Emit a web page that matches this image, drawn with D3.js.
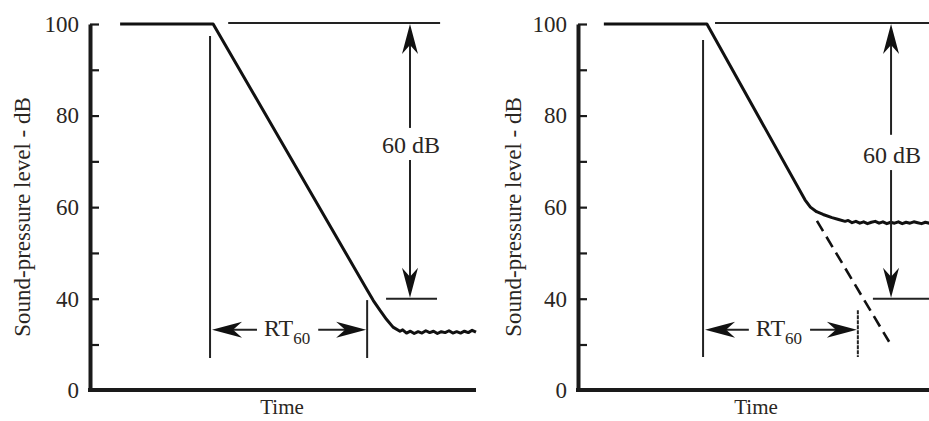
<!DOCTYPE html>
<html>
<head>
<meta charset="utf-8">
<script src="https://cdn.jsdelivr.net/npm/d3@7"></script>
<style>
  body { margin: 0; background: #fff; }
  svg { display: block; }
  text { font-family: "Liberation Serif", "DejaVu Serif", serif; fill: #2a2622; }
</style>
</head>
<body>
<div id="chart"></div>
<script>
// level axis (dB), the axis is broken between 30 and 0
var yTickValues = [100, 90, 80, 70, 60, 50, 40, 30, 0];
var yTickLabels = { 100: "100", 80: "80", 60: "60", 40: "40", 0: "0" };

// left panel: decay down to a low noise floor
var leftTime  = [7.8, 31.9, 71.8, 73.4, 75.1, 76.8, 78.5, 80.3, 81, 82, 83, 84, 85, 86, 87, 88, 89, 90,
                 91, 92, 93, 94, 95, 96, 97, 98, 99, 100];
var leftLevel = [100, 100, 41.9, 39.6, 37.5, 35.5, 33.8, 32.9, 33.2, 32.5, 32.9, 32.4, 32.8, 32.5, 33.0, 32.6, 32.9, 32.4,
                 32.8, 32.6, 33.0, 32.5, 32.8, 32.5, 32.9, 32.6, 33.1, 32.7];

// right panel: decay down to a high noise floor, with extrapolated decay
var rightTime  = [6.7, 33.4, 58.8, 60.2, 61.8, 63.5, 65.8, 67.5, 69.2, 70, 71, 72, 73, 74, 75, 76, 77, 78, 79, 80,
                  81, 82, 83, 84, 85, 86, 87, 88, 89, 90, 91, 92];
var rightLevel = [100, 100, 61.6, 60.0, 59.0, 58.4, 57.7, 57.3, 56.9, 57.1, 56.6, 56.9, 56.5, 56.8, 56.4, 56.7, 56.9, 56.5, 56.8, 56.4,
                  56.7, 56.5, 56.8, 56.4, 56.7, 56.5, 56.8, 56.6, 56.4, 56.7, 56.5, 56.6];
var dashTime  = [61.9, 80.6];
var dashLevel = [57.0, 30.6];

// annotation positions, in time / dB units
var leftNotes  = { rtStart: 31.1, rtEnd: 71.8, rtStartTop: 97.4, rtEndTop: 39.7, rtBottom: 21.1,
                   topFrom: 35.8, topTo: 90.7, lowFrom: 76.7, lowTo: 89.9, arrowX: 82.9,
                   gapTop: 77.3, gapBottom: 70.3, labelLevel: 71.8, rtLevel: 33.2 };
var rightNotes = { rtStart: 32.4, rtEnd: 72.5, rtStartTop: 96.5, rtEndTop: 37.5, rtBottom: 21.8,
                   topFrom: 35.5, topTo: 92, lowFrom: 76.4, lowTo: 92, arrowX: 81.1,
                   gapTop: 75.8, gapBottom: 68.1, labelLevel: 69.6, rtLevel: 33.2 };

var width = 929, height = 421;
var svg = d3.select("#chart").append("svg")
    .attr("width", width)
    .attr("height", height);

var y = d3.scaleLinear().domain([0, 30, 100]).range([390, 344.5, 24]);

function arrowHead(g, x, yy, dir) {
    // dir: "up", "down", "left", "right"
    var len = 30, half = 8, notch = 9;
    var pts;
    if (dir === "up")    pts = [[0, 0], [half, len], [0, len - notch], [-half, len]];
    if (dir === "down")  pts = [[0, 0], [half, -len], [0, -len + notch], [-half, -len]];
    if (dir === "left")  pts = [[0, 0], [len, half], [len - notch, 0], [len, -half]];
    if (dir === "right") pts = [[0, 0], [-len, half], [-len + notch, 0], [-len, -half]];
    g.append("path")
        .attr("d", "M" + pts.map(function (p) { return (x + p[0]) + "," + (yy + p[1]); }).join("L") + "Z")
        .style("fill", "#111");
}

function drawPanel(x0, time, level, notes, dashT, dashL, labelX, timeX) {
    var g = svg.append("g");
    var x = d3.scaleLinear().domain([0, 100]).range([x0, x0 + 386]);

    // y axis
    var yAxis = d3.axisLeft(y)
        .tickValues(yTickValues)
        .tickSizeInner(-9)
        .tickSizeOuter(0)
        .tickPadding(11)
        .tickFormat(function (d) { return yTickLabels[d] || ""; });
    var ya = g.append("g").attr("transform", "translate(" + x0 + ",0)").call(yAxis);
    ya.select(".domain").style("stroke", "#1a1a1a").style("stroke-width", 4);
    ya.selectAll(".tick line").style("stroke", "#1a1a1a").style("stroke-width", 2.2);
    ya.selectAll(".tick text")
        .style("font-family", "Liberation Serif")
        .style("font-size", "23px")
        .style("fill", "#2a2622");

    // x axis (no ticks)
    var xa = g.append("g").attr("transform", "translate(0,390)")
        .call(d3.axisBottom(x).tickValues([]).tickSizeOuter(0));
    xa.select(".domain").style("stroke", "#1a1a1a").style("stroke-width", 4).attr("d", function () {
        return "M" + (x0 - 2) + ",0H" + x(100);
    });

    // decay curve
    var line = d3.line()
        .x(function (d, i) { return x(time[i]); })
        .y(function (d) { return y(d); });
    g.append("path")
        .datum(level)
        .attr("d", line)
        .style("fill", "none")
        .style("stroke", "#111")
        .style("stroke-width", 3)
        .style("stroke-linejoin", "round");

    if (dashT) {
        var dline = d3.line()
            .x(function (d, i) { return x(dashT[i]); })
            .y(function (d) { return y(d); });
        g.append("path")
            .datum(dashL)
            .attr("d", dline)
            .style("fill", "none")
            .style("stroke", "#111")
            .style("stroke-width", 2.6)
            .style("stroke-dasharray", "12,6.5");
    }

    var thin = function (sel) { return sel.style("stroke", "#222").style("stroke-width", 2); };

    // reference levels
    thin(g.append("line").attr("x1", x(notes.topFrom)).attr("x2", x(notes.topTo))
        .attr("y1", y(100) - 1).attr("y2", y(100) - 1));
    thin(g.append("line").attr("x1", x(notes.lowFrom)).attr("x2", x(notes.lowTo))
        .attr("y1", y(40)).attr("y2", y(40)));

    // 60 dB double arrow
    var ax = x(notes.arrowX);
    thin(g.append("line").attr("x1", ax).attr("x2", ax).attr("y1", y(100) + 10).attr("y2", y(notes.gapTop)));
    thin(g.append("line").attr("x1", ax).attr("x2", ax).attr("y1", y(notes.gapBottom)).attr("y2", y(40) - 10));
    arrowHead(g, ax, y(100), "up");
    arrowHead(g, ax, y(40) - 1, "down");
    g.append("text")
        .attr("x", ax + 1)
        .attr("y", y(notes.labelLevel))
        .attr("text-anchor", "middle")
        .style("font-size", "24px")
        .text("60 dB");

    // RT60 markers
    thin(g.append("line").attr("x1", x(notes.rtStart)).attr("x2", x(notes.rtStart))
        .attr("y1", y(notes.rtStartTop)).attr("y2", y(notes.rtBottom)));
    var endLine = thin(g.append("line").attr("x1", x(notes.rtEnd)).attr("x2", x(notes.rtEnd))
        .attr("y1", y(notes.rtEndTop)).attr("y2", y(notes.rtBottom)));
    if (dashT) endLine.style("stroke-dasharray", "4,1");

    var ry = y(notes.rtLevel);
    var xs = x(notes.rtStart) + 2, xe = x(notes.rtEnd) - 1;
    var mid = (xs + xe) / 2 - 2;
    var label = g.append("text")
        .attr("x", mid)
        .attr("y", ry + 6)
        .attr("text-anchor", "middle")
        .style("font-size", "24px");
    label.append("tspan").text("RT");
    label.append("tspan").attr("dy", 8).style("font-size", "17px").text("60");
    var bb = label.node().getBBox();
    thin(g.append("line").attr("x1", xs + 10).attr("x2", bb.x - 7).attr("y1", ry).attr("y2", ry));
    thin(g.append("line").attr("x1", bb.x + bb.width + 8).attr("x2", xe - 10).attr("y1", ry).attr("y2", ry));
    arrowHead(g, xs, ry, "left");
    arrowHead(g, xe, ry, "right");

    // axis titles
    g.append("text")
        .attr("transform", "translate(" + labelX + "," + 217 + ") rotate(-90)")
        .attr("text-anchor", "middle")
        .style("font-size", "23px")
        .text("Sound-pressure level - dB");
    g.append("text")
        .attr("x", timeX)
        .attr("y", 414)
        .attr("text-anchor", "middle")
        .style("font-size", "21px")
        .text("Time");
}

drawPanel(90, leftTime, leftLevel, leftNotes, null, null, 30, 282);
drawPanel(578, rightTime, rightLevel, rightNotes, dashTime, dashLevel, 521, 756);
</script>
</body>
</html>
